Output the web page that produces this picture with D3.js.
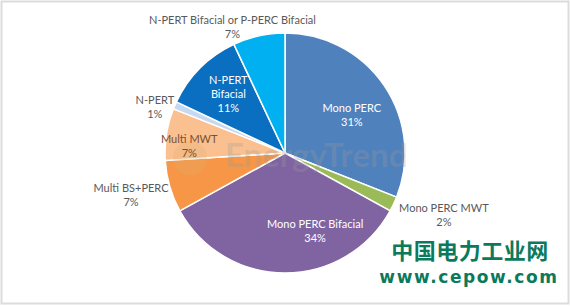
<!DOCTYPE html>
<html>
<head>
<meta charset="utf-8">
<script src="https://cdn.jsdelivr.net/npm/d3@7"></script>
<style>
    body { margin: 0; background: #fff; }
    svg { display: block; }
    .lbl { font-family: Lato, "Noto Sans", sans-serif; font-size: 11px; }
</style>
</head>
<body>
<div id="chart"></div>
<script>
// slice names, shares (%) and fill colours, clockwise from 12 o'clock
var names = ["Mono PERC", "Mono PERC MWT", "Mono PERC Bifacial", "Multi BS+PERC",
    "Multi MWT", "N-PERT", "N-PERT Bifacial", "N-PERT Bifacial or P-PERC Bifacial"];
var shares = [31, 2, 34, 7, 7, 1, 11, 7];
var colors = ["#4f81bd", "#9bbb59", "#8064a2", "#f79646", "#fac090", "#c6d9f1", "#0a6fc0", "#00b0f0"];

// label lines as drawn in the chart
var labelLines = [["Mono PERC"], ["Mono PERC MWT"], ["Mono PERC Bifacial"], ["Multi BS+PERC"],
    ["Multi MWT"], ["N-PERT"], ["N-PERT", "Bifacial"], ["N-PERT Bifacial or P-PERC Bifacial"]];

// label placement: distance from centre (x radius) and angle nudge (degrees)
var labelRadius = [0.64, 1.42, 0.70, 1.33, 0.80, 1.15, 0.68, 1.14];
var labelNudge = [4.6, -4, -21, 1, -5, -4, 1, -10];
var labelInside = [true, false, true, false, true, false, true, false];

var width = 570, height = 306;
var cx = 285, cy = 153, r = 120;

var svg = d3.select("#chart").append("svg")
    .attr("width", width)
    .attr("height", height);

// light frame around the picture
svg.append("rect")
    .attr("x", 1.5).attr("y", 1.5)
    .attr("width", width - 3).attr("height", height - 4)
    .attr("fill", "none")
    .attr("stroke", "#dcdcdc")
    .attr("stroke-width", 2);

var g = svg.append("g").attr("transform", "translate(" + cx + "," + cy + ")");

var pie = d3.pie().sort(null).value(function (d) { return d; });
var arcs = pie(shares);

var arc = d3.arc().innerRadius(0).outerRadius(r);

g.selectAll(".slice")
    .data(arcs)
    .enter().append("path")
    .attr("class", "slice")
    .attr("d", arc)
    .attr("fill", function (d, i) { return colors[i]; })
    .attr("stroke", "#fff")
    .attr("stroke-width", 1.5);

// faded watermark
var wm = g.append("g").attr("opacity", 0.28);
wm.append("circle")
    .attr("cx", -95).attr("cy", 5).attr("r", 17)
    .attr("fill", "#e0b070");
wm.append("text")
    .attr("x", -60).attr("y", 14)
    .attr("font-family", "Lato, sans-serif")
    .attr("font-weight", "bold")
    .attr("font-size", 33)
    .attr("fill", "#9a9a9a")
    .text("EnergyTrend");

// data labels
var labels = g.selectAll(".lbl")
    .data(arcs)
    .enter().append("text")
    .attr("class", "lbl")
    .attr("text-anchor", "middle")
    .attr("fill", function (d, i) {
        if (!labelInside[i]) return "#595959";
        return i === 4 ? "#7a5030" : "#fff";
    })
    .attr("transform", function (d, i) {
        var a = (d.startAngle + d.endAngle) / 2 + labelNudge[i] * Math.PI / 180;
        var rr = labelRadius[i] * r;
        return "translate(" + (rr * Math.sin(a)) + "," + (-rr * Math.cos(a)) + ")";
    });

labels.each(function (d, i) {
    var lines = labelLines[i].concat([shares[i] + "%"]);
    var t = d3.select(this);
    var top = -(lines.length - 1) * 14 / 2 + 4;
    lines.forEach(function (s, k) {
        t.append("tspan")
            .attr("x", 0)
            .attr("y", top + k * 14)
            .text(s);
    });
});

// site stamp
svg.append("text")
    .attr("x", 470).attr("y", 259)
    .attr("text-anchor", "middle")
    .attr("font-family", "Noto Sans CJK SC, sans-serif")
    .attr("font-weight", "bold")
    .attr("font-size", 22)
    .attr("letter-spacing", 0.5)
    .attr("fill", "#0b7a5c")
    .text("中国电力工业网");

svg.append("text")
    .attr("x", 469).attr("y", 283)
    .attr("text-anchor", "middle")
    .attr("font-family", "DejaVu Sans, sans-serif")
    .attr("font-weight", "bold")
    .attr("font-size", 17)
    .attr("letter-spacing", 1.6)
    .attr("fill", "#0b7a5c")
    .text("www.cepow.com");
</script>
</body>
</html>
